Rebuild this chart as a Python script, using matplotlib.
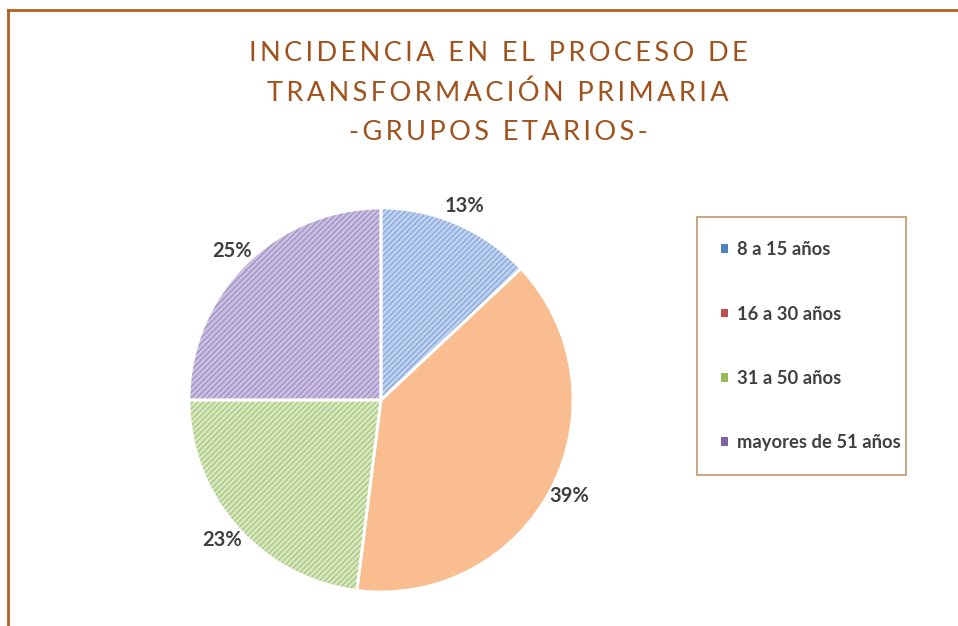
import matplotlib.pyplot as plt
from matplotlib.lines import Line2D
from matplotlib.patches import Patch

# data
groups = ['8 a 15 años', '16 a 30 años', '31 a 50 años', 'mayores de 51 años']
shares = [13, 39, 23, 25]
face_colors = ['#bed2f0', '#f9bd8f', '#d6e7bb', '#cbbfe1']
hatch_colors = ['#7b9dd2', '#f9bd8f', '#9cbc74', '#9484bb']
hatches = ['//////', '', '//////', '//////']
legend_colors = ['#4f81bd', '#c0504d', '#9bbb59', '#8064a2']
title_lines = ['INCIDENCIA EN EL PROCESO DE', 'TRANSFORMACIÓN PRIMARIA',
               '-GRUPOS ETARIOS-']

brown = '#b4601f'
title_color = '#a0521d'
plt.rcParams['hatch.linewidth'] = 0.7


def spaced(s):
    # poor man's letter spacing with thin spaces
    return '\u2009'.join(s)


fig = plt.figure(figsize=(9.58, 6.26), dpi=100)
fig.patch.set_facecolor('white')

# frame lines on top and left like the cropped original
fig.add_artist(Line2D([8 / 958, 1], [1 - 10 / 626] * 2, color=brown, lw=2))
fig.add_artist(Line2D([8 / 958] * 2, [0, 1 - 10 / 626], color=brown, lw=2))

fig.text(0.52, 1 - 93 / 626, '\n'.join(spaced(s) for s in title_lines),
         ha='center', va='center', fontsize=19.5, color=title_color,
         linespacing=1.72, family=['Lato', 'DejaVu Sans'])

ax = fig.add_axes([0.1973, 0.0543, 0.4008, 0.6134])
wedges, texts, autotexts = ax.pie(
    shares, colors=face_colors, startangle=90, counterclock=False,
    autopct='%1.0f%%', pctdistance=1.1,
    wedgeprops=dict(linewidth=0),
    textprops=dict(fontsize=14.5, fontweight='bold', color='#404040',
                   family='Lato'))
for w, hc, h in zip(wedges, hatch_colors, hatches):
    w.set_hatch(h)
    w.set_edgecolor(hc)

# white separators on top of the hatching
outline, _ = ax.pie(shares, colors=['none'] * 4, startangle=90,
                    counterclock=False,
                    wedgeprops=dict(linewidth=2, edgecolor='white'))
ax.set_xlim(-1, 1)
ax.set_ylim(-1, 1)
ax.set_aspect('equal')

handles = [Patch(facecolor=c, edgecolor='none') for c in legend_colors]
leg = fig.legend(handles, groups, loc='upper left',
                 bbox_to_anchor=(697 / 958, 1 - 217 / 626, 209 / 958, 0),
                 mode='expand', borderaxespad=0, fancybox=False,
                 handlelength=0.35, handleheight=0.35, handletextpad=0.5,
                 labelspacing=2.58, borderpad=1.32,
                 prop=dict(family='Lato', weight='bold', size=13.2))
leg.get_frame().set_edgecolor('#b8845a')
leg.get_frame().set_linewidth(1.3)
for t in leg.get_texts():
    t.set_color('#404040')

fig.savefig('out.png', dpi=100)
